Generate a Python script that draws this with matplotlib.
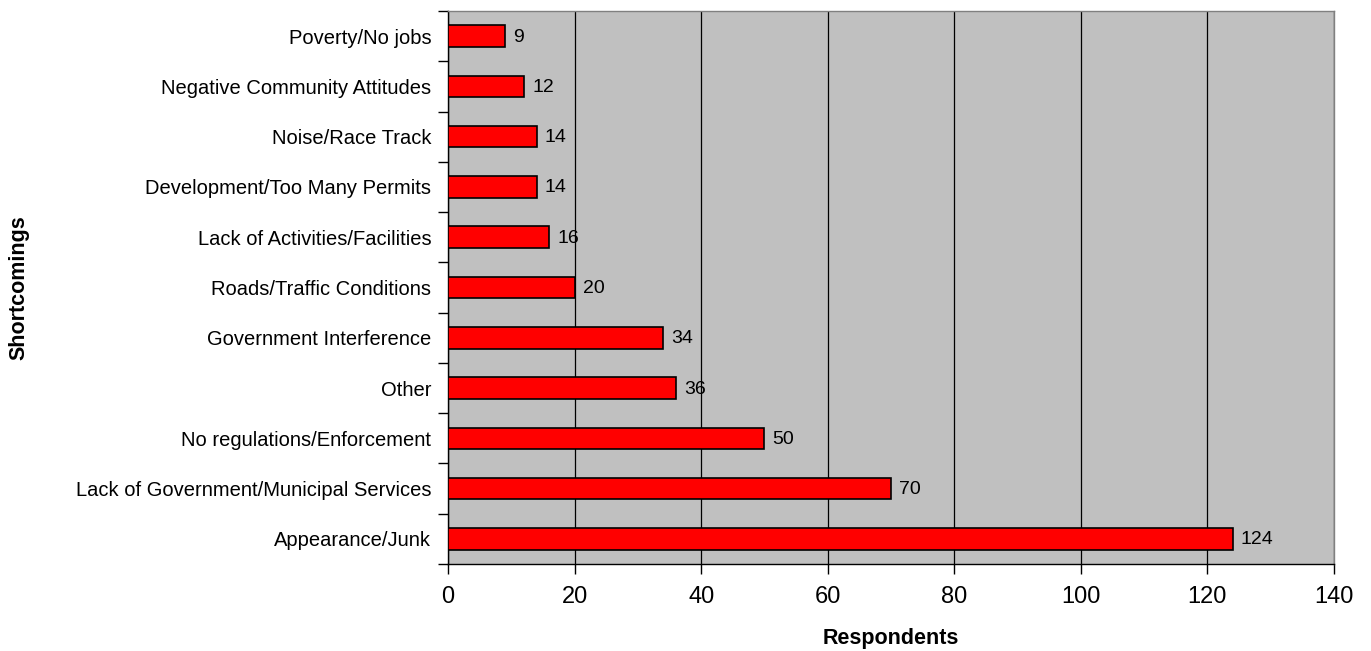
import matplotlib.pyplot as plt
import numpy as np

plt.rcParams['font.family'] = ['Liberation Sans', 'DejaVu Sans']

Categories = ["Appearance/Junk", "Lack of Government/Municipal Services",
              "No regulations/Enforcement", "Other", "Government Interference",
              "Roads/Traffic Conditions", "Lack of Activities/Facilities",
              "Development/Too Many Permits", "Noise/Race Track",
              "Negative Community Attitudes", "Poverty/No jobs"]
Respondents = [124, 70, 50, 36, 34, 20, 16, 14, 14, 12, 9]
XTicks = [0, 20, 40, 60, 80, 100, 120, 140]


def Main():
    fig = plt.figure(figsize=(13.71, 6.51), dpi=100)
    ax = fig.add_axes([448 / 1371, 1 - 564 / 651, (1334 - 448) / 1371, (564 - 11) / 651])
    ax.set_facecolor("#c0c0c0")

    y = np.arange(len(Categories))
    ax.barh(y, Respondents, height=0.43, color="#ff0000", edgecolor="black",
            linewidth=1.2, zorder=3)
    for yi, v in zip(y, Respondents):
        ax.text(v + 1.3, yi - 0.02, str(v), va="center", ha="left", fontsize=14, zorder=4)

    ax.set_xlim(0, 140)
    ax.set_ylim(-0.5, len(Categories) - 0.5)
    ax.set_xticks(XTicks)
    ax.set_xticklabels([str(t) for t in XTicks], fontsize=17)
    ax.set_yticks(y)
    ax.set_yticklabels(Categories, fontsize=14.5)
    ax.set_yticks(np.arange(-0.5, len(Categories), 1.0), minor=True)
    ax.tick_params(axis="y", which="major", length=0, pad=12)
    ax.tick_params(axis="y", which="minor", length=7, width=1)
    ax.tick_params(axis="x", length=7, width=1, pad=9)
    ax.xaxis.grid(True, color="black", linewidth=0.9, zorder=1)
    ax.set_axisbelow(True)

    ax.spines["top"].set_color("#808080")
    ax.spines["right"].set_color("#808080")
    for s in ax.spines.values():
        s.set_linewidth(1.0)

    ax.set_xlabel("Respondents", fontsize=15.5, fontweight="bold", labelpad=14)
    fig.text(19 / 1371, 1 - 288 / 651, "Shortcomings", rotation=90, fontsize=15.5,
             fontweight="bold", ha="center", va="center")

    fig.savefig("out.png", dpi=100)


if __name__ == "__main__":
    Main()
